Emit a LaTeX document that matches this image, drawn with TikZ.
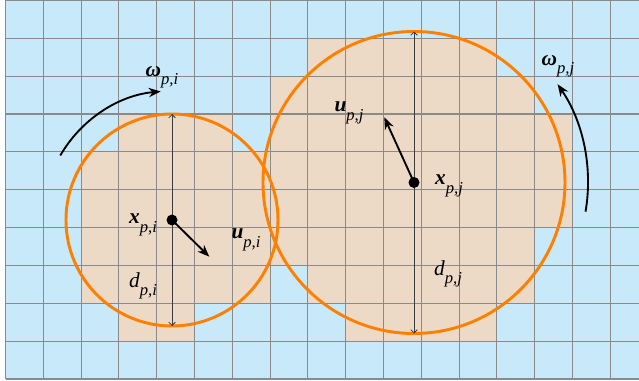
\documentclass[tikz,border=0pt]{standalone}
\usepackage{fontspec}
\setmainfont{Liberation Serif}
\usetikzlibrary{arrows.meta}
\definecolor{cellblue}{RGB}{199,233,249}
\definecolor{celltan}{RGB}{236,218,198}
\definecolor{gridgray}{RGB}{138,138,138}
\definecolor{ringorange}{RGB}{255,128,0}
\definecolor{diamgray}{RGB}{60,60,60}
\newcommand{\symlbl}[2]{{\bfseries\itshape #1}\raisebox{-0.85ex}{\fontsize{12.5}{13}\selectfont\itshape #2}}
\newcommand{\itlbl}[2]{{\itshape #1}\raisebox{-0.85ex}{\fontsize{12.5}{13}\selectfont\itshape #2}}
\begin{document}
\begin{tikzpicture}[x=0.75pt,y=-0.75pt,
  gridline/.style={draw=gridgray,line width=0.85pt},
  ring/.style={draw=ringorange,line width=2.2pt},
  diam/.style={draw=diamgray,line width=0.6pt,{Straight Barb[length=2.5pt,width=5pt]}-{Straight Barb[length=2.5pt,width=5pt]}},
  vecarrow/.style={draw=black,line width=1.4pt,-{Stealth[length=9pt,width=7pt]}},
  omarrow/.style={draw=black,line width=1.4pt,-{Stealth[length=9pt,width=7pt]}},
  dot/.style={fill=black},
  lbl/.style={inner sep=1pt,font=\fontsize{16}{18}\selectfont}]
\useasboundingbox (0,0) rectangle (639,381);
\def\cw{37.8}
\def\ch{37.85}
% background cells
\fill[cellblue] (5.5,0.5) rectangle (639,379);
\foreach \r/\a/\b in {1/8/12, 2/7/13, 3/3/5, 3/7/14, 4/2/14, 5/2/14, 6/2/13, 7/2/6, 7/8/13, 8/3/4, 8/9/12}
  \fill[celltan] ({5.5+\cw*\a},{0.5+\ch*\r}) rectangle ({5.5+\cw*(\b+1)},{0.5+\ch*(\r+1)});
\foreach \k in {0,...,16}
  \draw[gridline] ({5.5+\cw*\k},0.5) -- ({5.5+\cw*\k},379);
\foreach \k in {0,...,10}
  \draw[gridline] (5.5,{0.5+\ch*\k}) -- (639,{0.5+\ch*\k});
% particle centres and diameter end points
\coordinate (ci) at (172,220);
\coordinate (cj) at (414,182.5);
\coordinate (ti) at (172,114);
\coordinate (bi) at (172,326);
\coordinate (tj) at (414,31.5);
\coordinate (bj) at (414,333.5);
\coordinate (ui) at (209.3,256.7);
\coordinate (uj) at (384.3,117.3);
% circles
\draw[ring] (ci) circle[radius=106];
\draw[ring] (cj) circle[radius=151];
% diameters
\draw[diam] (ti) -- (bi);
\draw[diam] (tj) -- (bj);
% velocity arrows
\draw[vecarrow] (ci) -- (ui);
\draw[vecarrow] (cj) -- (uj);
% dots
\fill[dot] (ci) circle[radius=5.5];
\fill[dot] (cj) circle[radius=5.5];
% rotation arrows
\path (ci) ++(-150:129) coordinate (wis);
\draw[omarrow] (wis) arc[start angle=-150,end angle=-95,radius=129];
\path (cj) ++(9.65:174) coordinate (wjs);
\draw[omarrow] (wjs) arc[start angle=9.65,end angle=-34.4,radius=174];
% labels
\node[lbl] (wilab) at (162,77) {\symlbl{ω}{p,i}};
\node[lbl] (xilab) at (143,225) {\symlbl{x}{p,i}};
\node[lbl] (uilab) at (246,240) {\symlbl{u}{p,i}};
\node[lbl] (dilab) at (143,286) {\itlbl{d}{p,i}};
\node[lbl] (ujlab) at (349,113) {\symlbl{u}{p,j}};
\node[lbl] (xjlab) at (449,186) {\symlbl{x}{p,j}};
\node[lbl] (wjlab) at (558,66) {\symlbl{ω}{p,j}};
\node[lbl] (djlab) at (448,274) {\itlbl{d}{p,j}};
\end{tikzpicture}
\end{document}
